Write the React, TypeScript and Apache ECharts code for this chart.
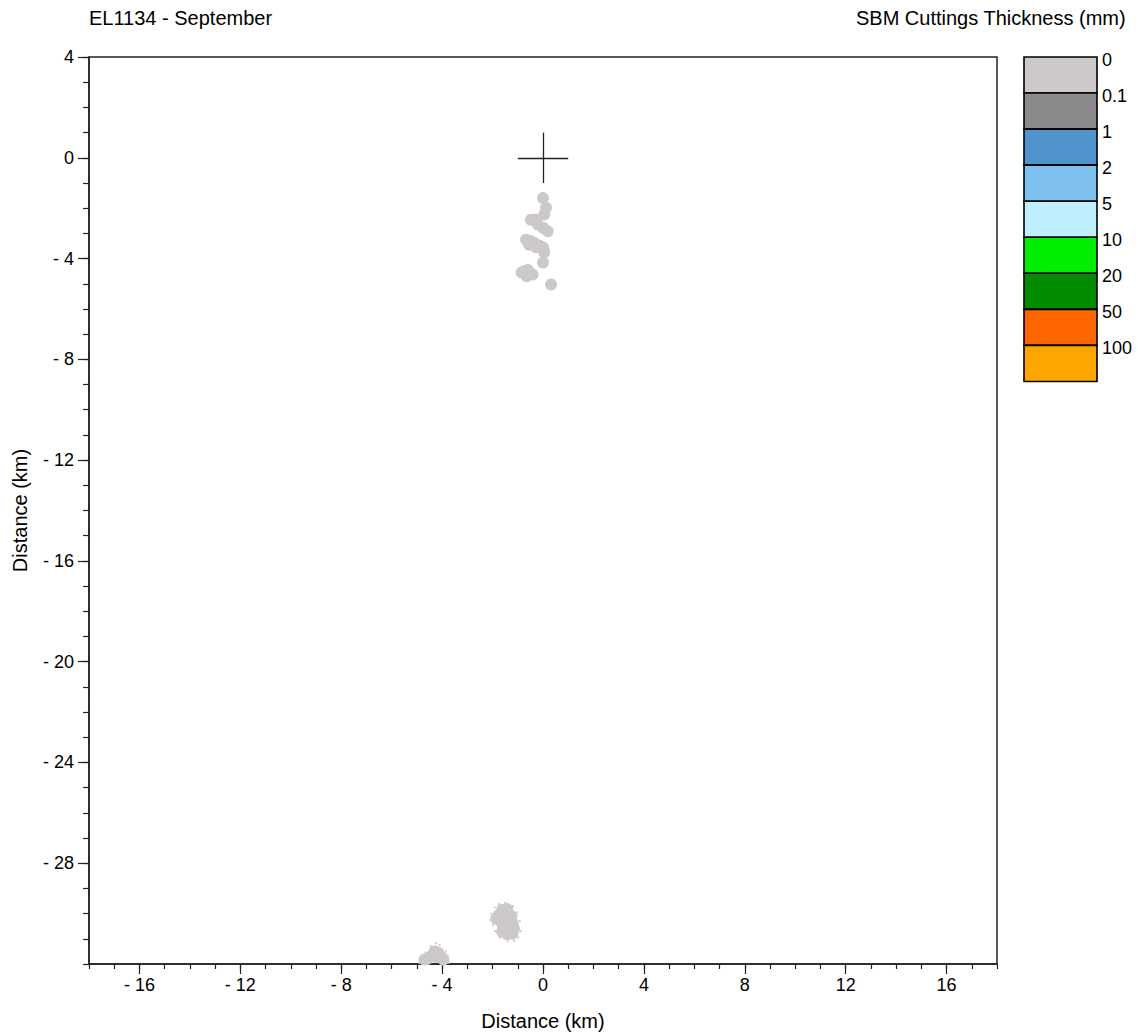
import React, { useEffect, useRef } from "react";
import * as echarts from "echarts";

// ---- Data ----
const titleText = "EL1134 - September";
const legendTitle = "SBM Cuttings Thickness (mm)";
const axisName = "Distance (km)";

const xRange = [-18, 18];
const yRange = [-32, 4];
const xMajorTicks = [-16, -12, -8, -4, 0, 4, 8, 12, 16];
const yMajorTicks = [4, 0, -4, -8, -12, -16, -20, -24, -28];

const legendLabels = ["0", "0.1", "1", "2", "5", "10", "20", "50", "100"];
const legendColors = [
  "#cdc9c9",
  "#8b8989",
  "#4f94cd",
  "#7ec0ee",
  "#bfefff",
  "#00ee00",
  "#008b00",
  "#ff6600",
  "#ffa500",
];

// Near-field deposits (km): small patches south of the well site
const nearPatches = [
  [0.0, -1.6], [0.12, -1.98], [0.05, -2.25], [-0.48, -2.46], [-0.3, -2.45],
  [-0.2, -2.65], [0.0, -2.78], [0.19, -2.92], [-0.67, -3.25], [-0.5, -3.3],
  [-0.36, -3.37], [-0.15, -3.48], [0.0, -3.56], [0.05, -3.75], [0.0, -4.16],
  [-0.75, -4.5], [-0.6, -4.45], [-0.41, -4.63], [0.32, -5.03], [-0.55, -3.45],
  [-0.28, -3.55], [-0.85, -4.55], [-0.65, -4.7],
];

// Far-field deposit A (km)
const farPatchA = [
  [-1.62, -29.85], [-1.42, -29.82], [-1.75, -30.05], [-1.5, -30.05], [-1.25, -30.1],
  [-1.7, -30.3], [-1.45, -30.32], [-1.2, -30.38], [-1.58, -30.55], [-1.33, -30.6],
  [-1.22, -30.8], [-1.42, -30.82], [-1.62, -30.72], [-1.85, -30.2], [-1.15, -30.6],
];
const farSpecklesA = [
  [-2.05, -30.0], [-1.98, -30.45], [-1.92, -29.75], [-1.75, -29.62], [-1.5, -29.58],
  [-1.2, -29.7], [-1.02, -29.95], [-0.92, -30.3], [-0.88, -30.7], [-0.98, -30.95],
  [-1.15, -31.08], [-1.4, -31.1], [-1.72, -30.95], [-1.9, -30.7], [-2.08, -30.25],
];

// Far-field deposit B (km), truncated by the domain edge
const farPatchB = [
  [-4.3, -31.5], [-4.15, -31.55], [-4.45, -31.7], [-4.25, -31.72], [-4.0, -31.75],
  [-4.6, -31.8], [-4.7, -31.82], [-3.95, -31.82],
];
const farSpecklesB = [
  [-4.25, -31.18], [-4.1, -31.25], [-4.45, -31.3], [-3.85, -31.5], [-3.78, -31.7],
  [-4.65, -31.55], [-4.85, -31.8], [-4.9, -31.95], [-3.75, -31.95],
];

// Well site cross marker arms (km)
const crossArms = [
  [[-1, 0], [1, 0]],
  [[0, -1], [0, 1]],
];

const FONT = "'Liberation Sans', Arial, Helvetica, sans-serif";
const fmt = (v: number) => (v < 0 ? `- ${Math.abs(v)}` : `${v}`);

export default function App() {
  const ref = useRef<HTMLDivElement>(null);

  useEffect(() => {
    if (!ref.current) return;
    const chart = echarts.init(ref.current, null, { renderer: "svg" });

    const gridLeft = 89;
    const gridTop = 57;
    const gridW = 908;
    const gridH = 908;

    const legX = 1024;
    const legY = 57;
    const legW = 73;
    const legH = 36.05;

    const legendGraphics: any[] = [];
    legendColors.forEach((c, i) => {
      legendGraphics.push({
        type: "rect",
        shape: { x: legX, y: legY + i * legH, width: legW, height: legH },
        style: { fill: c, stroke: "#000", lineWidth: 1.6 },
      });
    });
    legendLabels.forEach((t, i) => {
      legendGraphics.push({
        type: "text",
        x: legX + 78,
        y: legY + i * legH + 3,
        style: {
          text: t,
          fontSize: 18,
          fontFamily: FONT,
          fill: "#000",
          textVerticalAlign: "middle",
          textAlign: "left",
        },
      });
    });

    const tickStyle = { color: "#222", width: 1.2 };
    const grey = legendColors[0];

    chart.setOption({
      animation: false,
      backgroundColor: "#fff",
      textStyle: { fontFamily: FONT },
      title: [
        {
          text: titleText,
          left: 89,
          top: 8,
          padding: 0,
          textStyle: { fontSize: 20, fontWeight: "normal", color: "#000", fontFamily: FONT },
        },
        {
          text: legendTitle,
          right: 12,
          top: 8,
          padding: 0,
          textStyle: { fontSize: 20, fontWeight: "normal", color: "#000", fontFamily: FONT },
        },
      ],
      grid: {
        left: gridLeft,
        top: gridTop,
        width: gridW,
        height: gridH,
        show: true,
        borderColor: "#222",
        borderWidth: 1.5,
        backgroundColor: "transparent",
      },
      xAxis: [
        {
          type: "value",
          min: xRange[0],
          max: xRange[1],
          interval: 1,
          position: "bottom",
          axisLine: { show: true, onZero: false, lineStyle: { color: "#222", width: 1.5 } },
          axisTick: { show: true, length: 5, lineStyle: tickStyle },
          axisLabel: { show: false },
          splitLine: { show: false },
        },
        {
          type: "value",
          min: xRange[0],
          max: xRange[1],
          position: "bottom",
          axisLine: { show: false, onZero: false },
          axisTick: { show: true, length: 10, customValues: xMajorTicks, lineStyle: tickStyle },
          axisLabel: {
            show: true,
            customValues: xMajorTicks,
            formatter: fmt,
            fontSize: 18,
            color: "#000",
            margin: 12,
            fontFamily: FONT,
          },
          splitLine: { show: false },
          name: axisName,
          nameLocation: "middle",
          nameGap: 47,
          nameTextStyle: { fontSize: 20, color: "#000", fontFamily: FONT },
        },
      ],
      yAxis: [
        {
          type: "value",
          min: yRange[0],
          max: yRange[1],
          interval: 1,
          position: "left",
          axisLine: { show: true, onZero: false, lineStyle: { color: "#222", width: 1.5 } },
          axisTick: { show: true, length: 6, lineStyle: tickStyle },
          axisLabel: { show: false },
          splitLine: { show: false },
        },
        {
          type: "value",
          min: yRange[0],
          max: yRange[1],
          position: "left",
          axisLine: { show: false, onZero: false },
          axisTick: { show: true, length: 11, customValues: yMajorTicks, lineStyle: tickStyle },
          axisLabel: {
            show: true,
            customValues: yMajorTicks,
            formatter: fmt,
            fontSize: 18,
            color: "#000",
            margin: 15,
            fontFamily: FONT,
          },
          splitLine: { show: false },
          name: axisName,
          nameLocation: "middle",
          nameGap: 59,
          nameTextStyle: { fontSize: 20, color: "#000", fontFamily: FONT },
        },
      ],
      series: [
        {
          type: "scatter",
          name: "near",
          data: nearPatches,
          symbol: "circle",
          symbolSize: 12,
          itemStyle: { color: grey, opacity: 1 },
          silent: true,
          markLine: {
            silent: true,
            symbol: ["none", "none"],
            label: { show: false },
            lineStyle: { color: "#222", width: 1.3, type: "solid" },
            data: crossArms.map((arm) => [{ coord: arm[0] }, { coord: arm[1] }]),
          },
        },
        {
          type: "scatter",
          name: "farA",
          data: farPatchA,
          symbol: "circle",
          symbolSize: 12,
          itemStyle: { color: grey, opacity: 1 },
          silent: true,
        },
        {
          type: "scatter",
          name: "farSpecklesA",
          data: farSpecklesA,
          symbol: "rect",
          symbolSize: 2,
          itemStyle: { color: grey, opacity: 1 },
          silent: true,
        },
        {
          type: "scatter",
          name: "farB",
          data: farPatchB,
          symbol: "circle",
          symbolSize: 12,
          itemStyle: { color: grey, opacity: 1 },
          silent: true,
        },
        {
          type: "scatter",
          name: "farSpecklesB",
          data: farSpecklesB,
          symbol: "rect",
          symbolSize: 2,
          itemStyle: { color: grey, opacity: 1 },
          silent: true,
        },
      ],
      graphic: legendGraphics,
    });

    return () => chart.dispose();
  }, []);

  return (
    <div
      ref={ref}
      style={{ position: "fixed", left: 0, top: 0, width: 1138, height: 1036, background: "#fff" }}
    />
  );
}
